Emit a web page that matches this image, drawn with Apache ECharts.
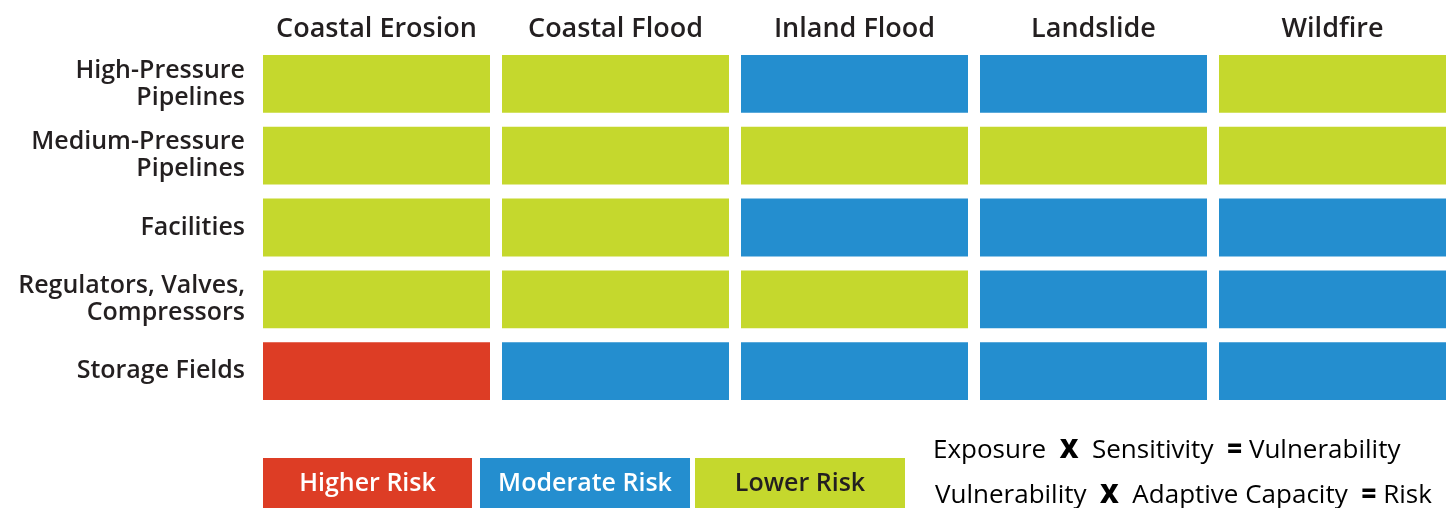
<!DOCTYPE html>
<html>
<head>
<meta charset="utf-8">
<title>Risk matrix</title>
<script src="https://cdn.jsdelivr.net/npm/echarts@6/dist/echarts.min.js"></script>
<style>
    html, body { margin: 0; padding: 0; background: #fff; }
    #main { width: 1447px; height: 508px; }
</style>
</head>
<body>
<div id="main"></div>
<script>
// 灾害类型（列）
var hazards = ['Coastal Erosion', 'Coastal Flood', 'Inland Flood', 'Landslide', 'Wildfire'];
// 资产类型（行，自上而下）
var assets = ['High-Pressure\nPipelines', 'Medium-Pressure\nPipelines', 'Facilities', 'Regulators, Valves,\nCompressors', 'Storage Fields'];
// 风险等级：0 低 1 中 2 高，每行对应一个资产
var riskHighPressure = [0, 0, 1, 1, 0];
var riskMediumPressure = [0, 0, 0, 0, 0];
var riskFacilities = [0, 0, 1, 1, 1];
var riskRegulators = [0, 0, 0, 1, 1];
var riskStorage = [2, 1, 1, 1, 1];
// 图例
var levelNames = ['Lower Risk', 'Moderate Risk', 'Higher Risk'];
var levelColors = ['#c5d82d', '#248ecf', '#dd3d25'];
var levelTextColors = ['#231f20', '#ffffff', '#ffffff'];

var rows = [riskHighPressure, riskMediumPressure, riskFacilities, riskRegulators, riskStorage];
var cells = [];
for (var r = 0; r < rows.length; r++) {
    for (var c = 0; c < rows[r].length; c++) {
        cells.push([c, r, rows[r][c]]);
    }
}

var myChart = echarts.init(document.getElementById('main'));

// 图例方块：高 -> 中 -> 低
var legendOrder = [2, 1, 0];
var legendX = [263, 480, 695];
var legendW = [209, 210, 210];
var graphics = [];
legendOrder.forEach(function (lv, i) {
    graphics.push({
        type: 'rect',
        left: legendX[i], top: 458,
        shape: { width: legendW[i], height: 52 },
        style: { fill: levelColors[lv] }
    });
    graphics.push({
        type: 'text',
        x: legendX[i] + legendW[i] / 2, y: 484,
        style: {
            text: levelNames[lv],
            fill: levelTextColors[lv],
            font: '600 25px "Open Sans"',
            align: 'center',
            verticalAlign: 'middle'
        }
    });
});

// 公式说明
var richStyle = {
    n: { fontFamily: 'Open Sans', fontSize: 26, fontWeight: 400, color: '#231f20' },
    b: { fontFamily: 'Open Sans', fontSize: 26, fontWeight: 800, color: '#231f20' }
};
graphics.push({
    type: 'text', x: 933, y: 451,
    style: {
        text: '{n|Exposure  }{b|X}{n|  Sensitivity  }{b|=}{n| Vulnerability}',
        rich: richStyle, verticalAlign: 'middle'
    }
});
graphics.push({
    type: 'text', x: 935, y: 496,
    style: {
        text: '{n|Vulnerability  }{b|X}{n|  Adaptive Capacity  }{b|=}{n| Risk}',
        rich: richStyle, verticalAlign: 'middle'
    }
});

myChart.setOption({
    animation: false,
    grid: { left: 257, top: 48, width: 1195, height: 359, outerBoundsMode: 'none' },
    xAxis: {
        type: 'category',
        position: 'top',
        data: hazards,
        axisLine: { show: false },
        axisTick: { show: false },
        splitLine: { show: false },
        axisLabel: {
            interval: 0,
            hideOverlap: false,
            margin: 5,
            color: '#231f20',
            fontFamily: 'Open Sans',
            fontWeight: 600,
            fontSize: 27
        }
    },
    yAxis: {
        type: 'category',
        inverse: true,
        data: assets,
        axisLine: { show: false },
        axisTick: { show: false },
        splitLine: { show: false },
        axisLabel: {
            interval: 0,
            margin: 12,
            color: '#231f20',
            fontFamily: 'Open Sans',
            fontWeight: 600,
            fontSize: 25,
            lineHeight: 27,
            padding: [10, 0, 0, 0],
            align: 'right'
        }
    },
    series: [{
        type: 'custom',
        data: cells,
        encode: { x: 0, y: 1 },
        renderItem: function (params, api) {
            var p = api.coord([api.value(0), api.value(1)]);
            var s = api.size([1, 1]);
            var w = s[0] - 12, h = s[1] - 14;
            return {
                type: 'rect',
                shape: { x: p[0] - w / 2, y: p[1] - h / 2, width: w, height: h },
                style: { fill: levelColors[api.value(2)] }
            };
        }
    }],
    graphic: graphics
});
</script>
</body>
</html>
